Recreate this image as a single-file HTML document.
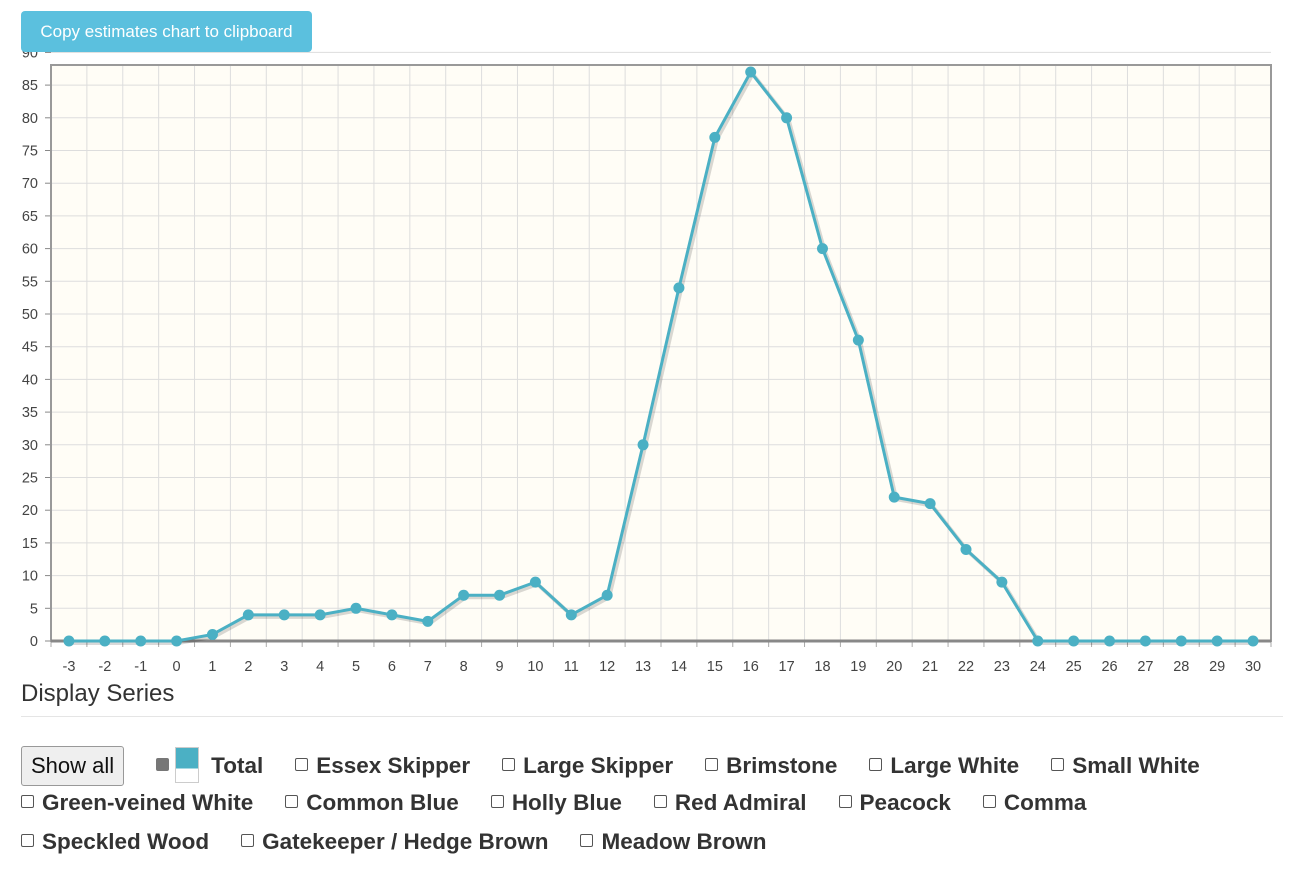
<!DOCTYPE html>
<html><head><meta charset="utf-8"><style>
body{margin:0;width:1300px;height:883px;background:#fff;font-family:"Liberation Sans",sans-serif;position:relative;overflow:hidden}
.btn{position:absolute;left:21px;top:11px;width:291px;height:41px;background:#5bc0de;border-radius:4px;color:#fff;font-size:17px;line-height:41px;text-align:center}
h3{position:absolute;left:21px;top:680px;margin:0;font-weight:normal;font-size:24px;color:#333}
.hr{position:absolute;left:21px;top:716px;width:1262px;height:1px;background:#e5e5e5}
.row{position:absolute;left:21px;font-size:22.5px;font-weight:bold;color:#333;white-space:nowrap}
.row span{margin-right:32px}
.cb{display:inline-block;width:11px;height:11px;border:1px solid #555;border-radius:2px;margin-right:8px;vertical-align:2px}
.show{display:inline-block;border:1px solid #999;background:#efefef;border-radius:3px;font-weight:normal;padding:6px 9px;font-size:22px;color:#111;margin-right:32px!important}
</style></head><body>
<svg id="chart" width="1300" height="680" style="position:absolute;left:0;top:0"></svg>
<div class="btn">Copy estimates chart to clipboard</div>
<h3>Display Series</h3>
<div class="hr"></div>
<div class="row" style="top:746px">
<span class="show">Show all</span><span><span class="cb" style="background:#777;border-color:#777;margin-right:6px"></span><span style="display:inline-block;width:22px;height:34px;border:1px solid #ccc;vertical-align:-10px;margin-right:12px;background:linear-gradient(#4bb0c4 60%,#fff 60%)"></span>Total</span><span><i class="cb"></i>Essex Skipper</span><span><i class="cb"></i>Large Skipper</span><span><i class="cb"></i>Brimstone</span><span><i class="cb"></i>Large White</span><span><i class="cb"></i>Small White</span></div>
<div class="row" style="top:790px">
<span><i class="cb"></i>Green-veined White</span><span><i class="cb"></i>Common Blue</span><span><i class="cb"></i>Holly Blue</span><span><i class="cb"></i>Red Admiral</span><span><i class="cb"></i>Peacock</span><span><i class="cb"></i>Comma</span></div>
<div class="row" style="top:829px">
<span><i class="cb"></i>Speckled Wood</span><span><i class="cb"></i>Gatekeeper / Hedge Brown</span><span><i class="cb"></i>Meadow Brown</span></div>
<script>
const weeks=[-3,-2,-1,0,1,2,3,4,5,6,7,8,9,10,11,12,13,14,15,16,17,18,19,20,21,22,23,24,25,26,27,28,29,30];
const totals=[0,0,0,0,1,4,4,4,5,4,3,7,7,9,4,7,30,54,77,87,80,60,46,22,21,14,9,0,0,0,0,0,0,0];
const yTicks=[0,5,10,15,20,25,30,35,40,45,50,55,60,65,70,75,80,85,90];
const NS="http://www.w3.org/2000/svg",svg=document.getElementById('chart');
const L=51,R=1271,T=65,B=641;
const xs=v=>L+(v+3.5)*(R-L)/34;
const ys=v=>B-v*(B-52.4)/90;
function mk(t,a,p){const e=document.createElementNS(NS,t);for(const k in a)e.setAttribute(k,a[k]);(p||svg).appendChild(e);return e;}
const bg=mk('rect',{x:L,y:T,width:R-L,height:B-T,fill:'#fffdf6'});


yTicks.forEach(v=>{const y=ys(v);
const g=mk('line',{x1:v==90?45:L,x2:R,y1:y,y2:y,stroke:'#ddd','stroke-width':1});


mk('line',{x1:45,x2:L,y1:y,y2:y,stroke:'#888'});
const t=mk('text',{x:38,y:y+5,'text-anchor':'end','font-size':14.5,fill:'#444'});t.textContent=v;

});
for(let i=0;i<=34;i++){const x=xs(-3.5+i);mk('line',{x1:x,x2:x,y1:T,y2:B,stroke:'#ddd'});mk('line',{x1:x,x2:x,y1:B,y2:B+6,stroke:'#aaa'});}
weeks.forEach(w=>{const t=mk('text',{x:xs(w),y:671,'text-anchor':'middle','font-size':14.5,fill:'#444'});t.textContent=w;

});
mk('rect',{x:L,y:T,width:R-L,height:B-T,fill:'none',stroke:'#999','stroke-width':2});
mk('line',{x1:L,x2:R,y1:B,y2:B,stroke:'#888','stroke-width':3});
const pts=weeks.map((w,i)=>xs(w)+','+ys(totals[i])).join(' ');
mk('polyline',{points:weeks.map((w,i)=>(xs(w)+2)+','+(ys(totals[i])+2)).join(' '),fill:'none',stroke:'rgba(0,0,0,0.15)','stroke-width':4});
const ln=mk('polyline',{points:pts,fill:'none',stroke:'#4bb0c4','stroke-width':3,'stroke-linejoin':'round'});


weeks.forEach((w,i)=>{const c=mk('circle',{cx:xs(w),cy:ys(totals[i]),r:5.5,fill:'#4bb0c4'});

});
</script>
</body></html>
